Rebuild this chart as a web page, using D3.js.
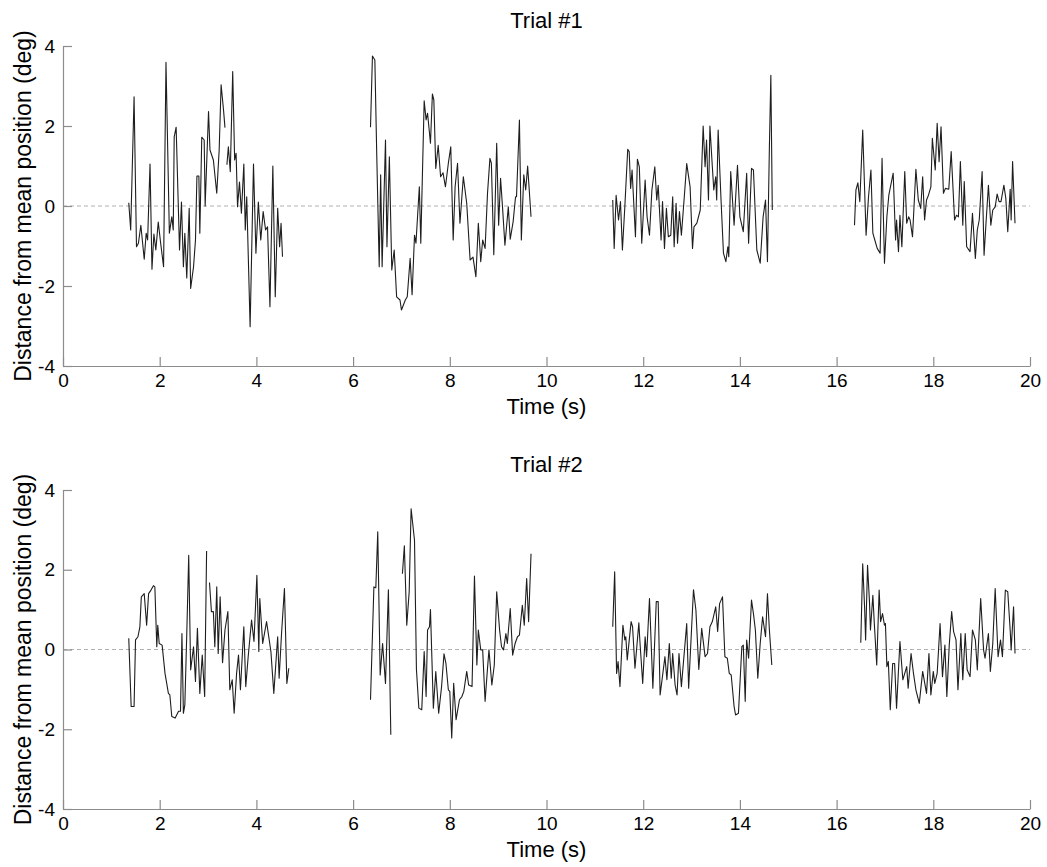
<!DOCTYPE html>
<html>
<head>
<meta charset="utf-8">
<script src="https://cdn.jsdelivr.net/npm/d3@7"></script>
<style>
  body { margin: 0; background: #fff; }
  svg { font-family: "Liberation Sans", Arial, sans-serif; }
</style>
</head>
<body>
<div id="chart"></div>
<script>
// Chart size (matches the page window)
const width = 1047;
const height = 867;

// tick values shared by both panels
const xTicks = [0, 2, 4, 6, 8, 10, 12, 14, 16, 18, 20];
const yTicks = [-4, -2, 0, 2, 4];
const titles = ["Trial #1", "Trial #2"];

// Trial 1: [time (s), distance (deg)], null = gap in the recording
const trial1 = [
  [1.36,0.08],[1.40,-0.6],[1.47,2.73],[1.52,-1.02],[1.56,-0.93],[1.61,-0.48],[1.68,-1.33],[1.72,-0.68],
  [1.75,-0.85],[1.80,1.05],[1.84,-1.58],[1.88,-0.7],[1.92,-1.1],[1.97,-0.4],[2.02,-0.93],[2.08,-1.52],
  [2.13,3.59],[2.20,-0.68],[2.25,-0.27],[2.28,-0.6],[2.30,1.73],[2.34,1.97],[2.41,-1.1],[2.45,0.1],
  [2.49,-1.52],[2.52,-0.68],[2.56,-1.8],[2.61,-0.06],[2.64,-2.06],[2.70,-1.52],[2.74,-0.85],[2.77,0.75],
  [2.81,0.75],[2.83,-0.68],[2.87,1.72],[2.92,1.65],[2.94,0.0],[3.01,2.36],[3.04,1.4],[3.11,1.15],
  [3.18,0.32],[3.23,1.4],[3.27,3.03],[3.32,2.4],[3.35,1.96], null,
  [3.39,1.03],[3.42,1.48],[3.46,0.86],[3.51,3.36],[3.55,1.15],[3.58,1.32],[3.61,-0.02],[3.65,0.6],
  [3.69,-0.18],[3.74,1.05],[3.77,-0.6],[3.80,0.23],[3.87,-3.02],[3.94,1.05],[3.99,-1.18],[4.04,0.1],
  [4.09,-0.85],[4.14,-0.14],[4.19,-0.6],[4.23,-0.52],[4.28,-2.52],[4.34,1.0],[4.39,-2.27],[4.44,-0.06],
  [4.48,-1.02],[4.51,-0.43],[4.54,-1.27], null,
  [6.36,1.97],[6.40,3.75],[6.45,3.65],[6.49,1.23],[6.54,-1.52],[6.57,0.78],[6.60,-1.52],[6.67,1.65],
  [6.70,-1.02],[6.75,1.23],[6.80,-1.6],[6.85,-1.1],[6.90,-2.27],[6.97,-2.35],[7.00,-2.6],[7.08,-2.35],
  [7.12,-2.27],[7.18,-1.31],[7.22,-2.22],[7.27,-0.73],[7.30,-0.93],[7.37,0.48],[7.40,-0.93],[7.47,2.63],
  [7.51,2.15],[7.54,2.32],[7.60,1.57],[7.64,2.8],[7.67,2.65],[7.71,0.94],[7.76,1.52],[7.81,0.73],
  [7.86,0.83],[7.91,0.48],[7.97,1.07],[8.02,1.48],[8.07,-0.85],[8.11,0.48],[8.16,1.07],[8.21,-0.43],
  [8.28,0.73],[8.35,0.07],[8.42,-1.35],[8.48,-1.28],[8.54,-1.77],[8.59,-0.43],[8.64,-1.39],[8.68,-0.85],
  [8.73,-1.06],[8.78,0.32],[8.83,1.19],[8.86,1.07],[8.91,-1.22],[8.97,1.57],[9.01,-0.48],[9.05,0.69],
  [9.09,-0.02],[9.14,-0.98],[9.21,-0.02],[9.25,-0.83],[9.31,-0.39],[9.36,0.23],[9.38,0.23],[9.44,2.15],
  [9.48,-0.85],[9.53,0.78],[9.57,0.4],[9.61,1.0],[9.68,-0.27], null,
  [11.37,0.15],[11.40,-1.06],[11.44,0.27],[11.49,-0.35],[11.53,0.11],[11.57,-1.1],[11.62,-0.02],[11.68,1.42],
  [11.71,1.36],[11.74,0.44],[11.77,0.9],[11.84,-0.77],[11.88,1.17],[11.92,0.98],[11.97,-0.93],[12.04,0.65],
  [12.08,-0.27],[12.13,-0.73],[12.18,0.4],[12.24,0.98],[12.28,0.15],[12.31,0.52],[12.37,-0.85],[12.40,0.11],
  [12.44,-1.06],[12.48,-0.06],[12.52,-0.77],[12.57,-0.73],[12.61,0.23],[12.64,-1.02],[12.68,0.07],[12.71,-0.93],
  [12.75,-0.14],[12.79,-0.73],[12.85,0.23],[12.90,1.06],[12.97,0.48],[13.02,-1.06],[13.05,-0.52],[13.11,-0.43],
  [13.18,-0.1],[13.24,2.0],[13.28,0.98],[13.31,1.65],[13.35,0.15],[13.38,2.0],[13.43,0.98],[13.46,0.4],
  [13.50,0.73],[13.52,0.15],[13.55,1.9],[13.61,0.15],[13.66,-1.18],[13.71,-1.39],[13.75,-1.02],[13.77,-1.27],
  [13.81,0.86],[13.88,-0.48],[13.95,1.02],[14.00,-0.27],[14.07,-0.64],[14.14,0.82],[14.18,-0.93],[14.24,0.94],
  [14.28,0.9],[14.35,-1.1],[14.42,-1.43],[14.48,-0.27],[14.53,0.15],[14.57,-1.39],[14.61,1.48],[14.64,3.27],
  [14.67,-0.1], null,
  [16.37,-0.48],[16.40,0.4],[16.44,0.58],[16.48,0.11],[16.54,1.9],[16.61,-0.73],[16.66,0.23],[16.71,0.9],
  [16.75,-0.68],[16.79,-0.85],[16.84,-1.06],[16.90,-1.18],[16.94,1.19],[16.99,-1.43],[17.04,-0.27],[17.08,0.27],
  [17.17,0.82],[17.22,-0.85],[17.24,-0.35],[17.28,-1.14],[17.31,-0.23],[17.35,-1.02],[17.41,0.86],[17.45,-0.43],
  [17.49,-0.27],[17.52,-0.35],[17.57,-0.77],[17.64,0.92],[17.69,0.15],[17.74,-0.06],[17.78,0.73],[17.82,-0.35],
  [17.86,0.15],[17.90,0.27],[17.95,0.48],[17.98,1.69],[18.04,0.9],[18.08,2.07],[18.12,1.11],[18.16,1.98],
  [18.21,0.32],[18.25,0.44],[18.32,0.42],[18.37,1.36],[18.44,-0.35],[18.48,-0.23],[18.52,-0.27],[18.56,1.11],
  [18.61,-0.48],[18.64,0.61],[18.69,-1.02],[18.76,-1.14],[18.81,-0.18],[18.87,-1.31],[18.91,-0.6],[18.95,-0.35],
  [19.01,0.86],[19.05,-1.23],[19.09,-0.43],[19.14,0.52],[19.19,-0.48],[19.23,-0.1],[19.28,-0.02],[19.32,0.3],
  [19.36,0.11],[19.40,0.11],[19.46,0.52],[19.50,0.19],[19.54,-0.64],[19.59,0.42],[19.61,-0.35],[19.64,1.11],
  [19.69,-0.43]
];

// Trial 2
const trial2 = [
  [1.36,0.28],[1.41,-1.43],[1.47,-1.43],[1.50,0.24],[1.55,0.32],[1.59,0.57],[1.62,1.32],[1.68,1.4],
  [1.73,0.61],[1.77,1.4],[1.82,1.49],[1.87,1.6],[1.90,1.57],[1.94,0.07],[1.96,0.61],[1.99,0.15],
  [2.05,0.11],[2.11,-0.6],[2.18,-1.1],[2.21,-1.14],[2.25,-1.68],[2.32,-1.72],[2.39,-1.55],[2.43,-1.55],
  [2.46,0.4],[2.49,-1.6],[2.52,-1.39],[2.56,0.4],[2.60,2.36],[2.64,-0.51],[2.70,0.07],[2.74,-0.8],
  [2.78,0.53],[2.83,-1.1],[2.88,-0.14],[2.93,-1.18],[2.97,2.47], null,
  [3.03,1.68],[3.07,0.95],[3.11,0.95],[3.14,0.07],[3.18,1.57],[3.21,-0.1],[3.25,1.32],[3.30,-0.33],
  [3.35,0.49],[3.41,0.95],[3.45,-1.01],[3.50,-0.76],[3.54,-1.6],[3.59,-0.6],[3.63,-0.14],[3.67,-1.01],
  [3.74,0.57],[3.78,-0.93],[3.83,-0.18],[3.90,0.74],[3.95,0.2],[4.01,1.86],[4.05,-0.05],[4.07,1.28],
  [4.13,0.15],[4.21,0.7],[4.30,-0.05],[4.36,-1.1],[4.44,0.32],[4.47,-0.72],[4.52,0.4],[4.58,1.53],
  [4.63,-0.85],[4.67,-0.47], null,
  [6.36,-1.26],[6.43,1.57],[6.47,1.55],[6.51,2.95],[6.56,-0.64],[6.61,0.15],[6.67,-0.85],[6.73,1.5],
  [6.78,-2.14], null,
  [7.02,1.9],[7.06,2.6],[7.11,0.61],[7.16,1.45],[7.20,3.53],[7.27,2.74],[7.31,-0.5],[7.36,-1.47],
  [7.42,-1.51],[7.47,-0.05],[7.51,-1.18],[7.54,0.49],[7.58,0.57],[7.60,1.0],[7.66,-1.47],[7.71,-0.55],
  [7.77,-1.6],[7.83,-0.93],[7.88,-0.11],[7.92,-0.35],[7.97,-1.01],[8.00,-1.05],[8.04,-2.22],[8.08,-0.85],
  [8.13,-1.76],[8.20,-1.26],[8.25,-1.18],[8.29,-1.05],[8.35,-0.55],[8.39,-0.89],[8.46,-0.93],[8.51,1.84],
  [8.56,-0.39],[8.59,0.49],[8.64,-0.01],[8.68,-0.01],[8.73,-1.3],[8.78,-0.47],[8.81,-0.01],[8.87,-0.89],
  [8.92,-0.39],[8.97,1.45],[9.03,0.49],[9.07,0.07],[9.11,-0.01],[9.16,0.4],[9.19,0.15],[9.25,1.03],
  [9.30,-0.14],[9.35,0.15],[9.40,0.32],[9.44,0.36],[9.50,1.11],[9.54,0.61],[9.59,1.78],[9.63,0.7],
  [9.68,2.4], null,
  [11.37,0.57],[11.41,1.95],[11.45,-0.6],[11.48,-0.3],[11.52,-0.93],[11.58,0.61],[11.62,0.24],[11.64,0.32],
  [11.67,-0.26],[11.75,0.7],[11.78,0.57],[11.83,-0.47],[11.91,0.67],[11.93,0.24],[11.99,-0.85],[12.04,0.32],
  [12.07,-0.18],[12.13,1.28],[12.20,-0.97],[12.27,1.2],[12.31,1.2],[12.35,-1.14],[12.45,-0.18],[12.49,-0.76],
  [12.54,0.15],[12.58,-0.72],[12.61,-0.1],[12.66,-0.89],[12.70,-1.14],[12.74,-0.1],[12.79,-0.93],[12.90,0.65],
  [12.94,-0.97],[13.04,1.5],[13.09,0.99],[13.15,-0.5],[13.21,0.53],[13.28,-0.18],[13.33,-0.1],[13.38,0.57],
  [13.43,0.7],[13.50,1.07],[13.54,0.45],[13.58,1.15],[13.64,1.32],[13.69,-0.18],[13.74,-0.22],[13.78,-0.6],
  [13.82,-0.64],[13.88,-1.43],[13.91,-1.64],[13.97,-1.6],[14.04,0.07],[14.07,0.11],[14.11,-1.3],[14.14,0.24],
  [14.18,-0.22],[14.24,1.24],[14.28,0.9],[14.32,0.49],[14.37,-0.72],[14.42,0.15],[14.47,0.82],[14.53,0.32],
  [14.57,1.4],[14.61,0.49],[14.66,-0.39], null,
  [16.50,0.17],[16.54,2.15],[16.58,1.03],[16.60,0.24],[16.64,2.11],[16.68,1.2],[16.70,0.49],[16.75,1.36],
  [16.78,0.65],[16.83,-0.39],[16.88,1.49],[16.91,0.7],[16.95,0.9],[16.99,0.61],[17.01,0.65],[17.04,-0.43],
  [17.07,-0.3],[17.11,-1.51],[17.16,-0.35],[17.20,-0.35],[17.24,-1.47],[17.31,0.2],[17.37,-0.76],[17.45,-0.43],
  [17.48,-0.97],[17.54,-0.1],[17.59,-0.6],[17.64,-1.01],[17.71,-1.35],[17.78,-0.55],[17.86,-1.1],[17.91,-0.1],
  [17.95,-1.14],[18.00,-0.55],[18.03,-0.85],[18.08,-0.6],[18.14,0.65],[18.19,-0.68],[18.24,0.11],[18.28,-1.18],
  [18.33,0.11],[18.38,0.95],[18.42,0.45],[18.47,0.24],[18.51,-1.01],[18.57,0.4],[18.61,-0.76],[18.66,0.4],
  [18.70,-0.51],[18.76,-0.68],[18.81,0.49],[18.87,0.24],[18.91,-0.51],[18.98,1.28],[19.04,-0.01],[19.07,-0.22],
  [19.14,0.4],[19.18,-0.55],[19.23,0.15],[19.28,1.53],[19.34,-0.18],[19.39,0.24],[19.43,-0.18],[19.49,1.49],
  [19.54,1.45],[19.59,0.49],[19.61,-0.01],[19.66,1.07],[19.69,-0.1]
];

const margin = {left: 63, right: 17};
// top and bottom pixel of each panel's plotting area
const panels = [
  {top: 46, bottom: 366, data: trial1, title: titles[0]},
  {top: 490, bottom: 809, data: trial2, title: titles[1]}
];

const svg = d3.select("#chart")
  .append("svg")
  .attr("width", width)
  .attr("height", height);

const xScale = d3.scaleLinear()
  .domain([0, 20])
  .range([margin.left, width - margin.right]);

const axisColor = "#8c8c8c";
// plain hyphen for negatives, like the original figure
const fmt = d => String(d);

panels.forEach(p => {
  const yScale = d3.scaleLinear()
    .domain([-4, 4])
    .range([p.bottom, p.top]);

  const g = svg.append("g");

  // dashed zero line
  g.append("line")
    .attr("x1", xScale(0))
    .attr("x2", xScale(20))
    .attr("y1", yScale(0))
    .attr("y2", yScale(0))
    .attr("stroke", "#b0b0b0")
    .attr("stroke-width", 1)
    .attr("stroke-dasharray", "4,3");

  // x axis, ticks point inward
  const xAxis = g.append("g")
    .attr("transform", `translate(0,${p.bottom})`)
    .call(d3.axisBottom(xScale).tickValues(xTicks).tickFormat(fmt)
      .tickSizeInner(-9).tickSizeOuter(0).tickPadding(8));

  // y axis
  const yAxis = g.append("g")
    .attr("transform", `translate(${margin.left},0)`)
    .call(d3.axisLeft(yScale).tickValues(yTicks).tickFormat(fmt)
      .tickSizeInner(-9).tickSizeOuter(0).tickPadding(8));

  [xAxis, yAxis].forEach(a => {
    a.select(".domain").attr("stroke", axisColor).attr("stroke-width", 1.2);
    a.selectAll(".tick line").attr("stroke", axisColor).attr("stroke-width", 1.2);
    a.selectAll(".tick text")
      .attr("fill", "#000")
      .attr("font-size", "19px")
      .attr("font-family", "Liberation Sans, Arial, sans-serif");
  });

  // trace
  const line = d3.line()
    .defined(d => d !== null)
    .x(d => xScale(d[0]))
    .y(d => yScale(d[1]));

  g.append("path")
    .datum(p.data)
    .attr("fill", "none")
    .attr("stroke", "#1e1e1e")
    .attr("stroke-width", 1.1)
    .attr("stroke-linejoin", "round")
    .attr("d", line);

  // title
  g.append("text")
    .attr("x", (xScale(0) + xScale(20)) / 2)
    .attr("y", p.top - 18)
    .attr("text-anchor", "middle")
    .attr("font-size", "22px")
    .text(p.title);

  // x label
  g.append("text")
    .attr("x", (xScale(0) + xScale(20)) / 2)
    .attr("y", p.bottom + 48)
    .attr("text-anchor", "middle")
    .attr("font-size", "22px")
    .text("Time (s)");

  // y label
  g.append("text")
    .attr("transform", `translate(31,${(p.top + p.bottom) / 2}) rotate(-90)`)
    .attr("text-anchor", "middle")
    .attr("font-size", "23px")
    .text("Distance from mean position (deg)");
});
</script>
</body>
</html>
